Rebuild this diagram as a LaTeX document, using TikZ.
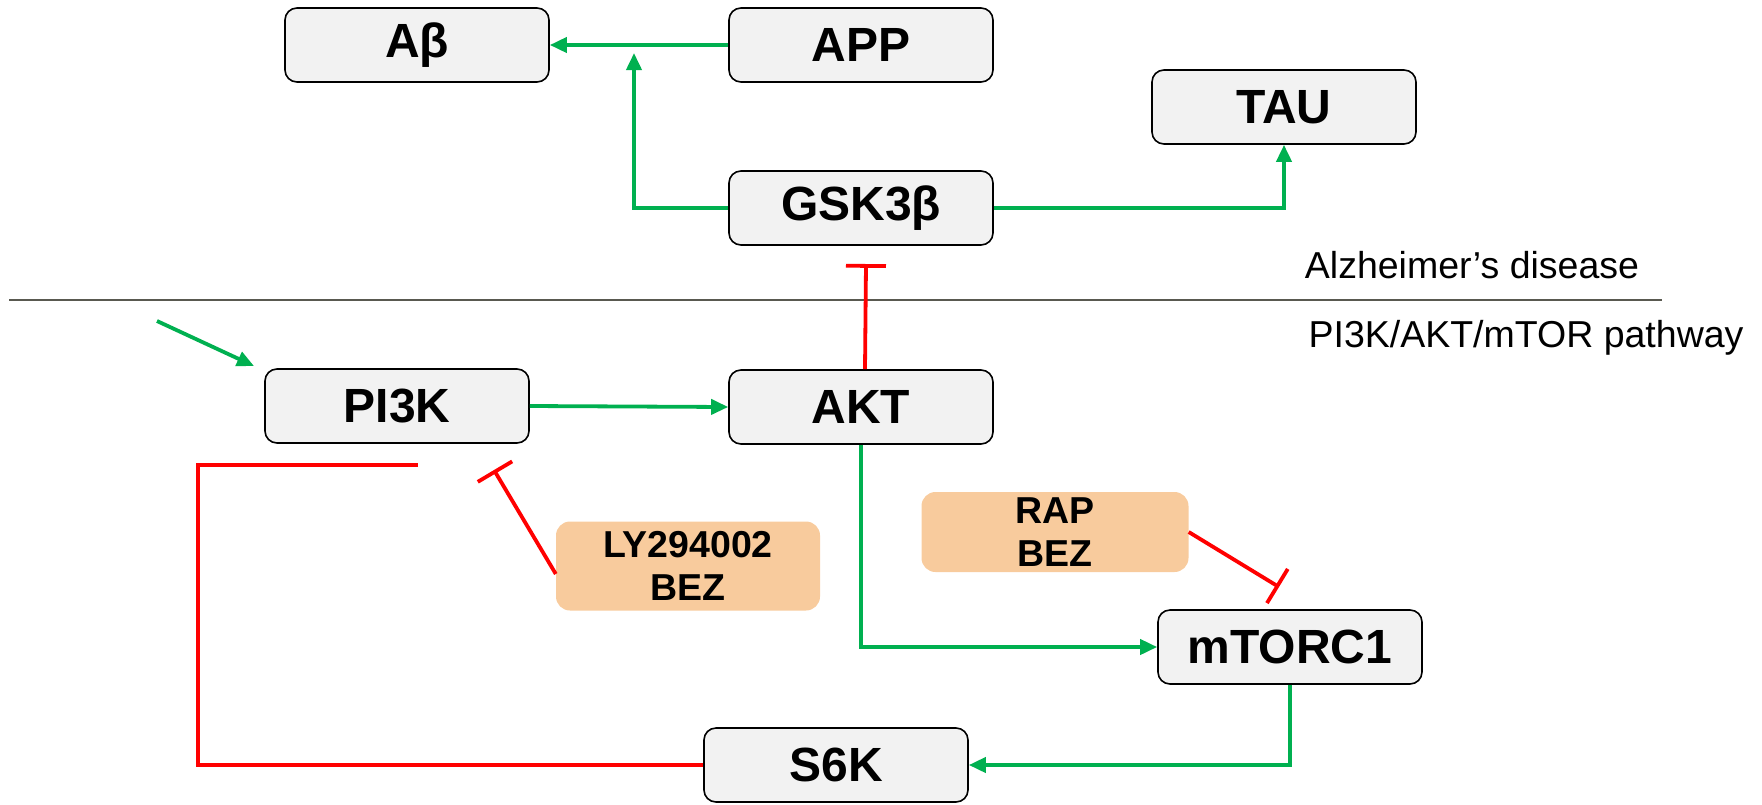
\documentclass[tikz,border=0pt]{standalone}
\usepackage{fontspec}
\setmainfont{Liberation Sans}
\usetikzlibrary{arrows.meta}
\definecolor{boxfill}{HTML}{F2F2F2}
\definecolor{drugfill}{HTML}{F8CB9D}
\definecolor{ggreen}{HTML}{00B050}
\definecolor{rred}{HTML}{FF0000}
\definecolor{divider}{HTML}{595950}
\tikzset{
  prot/.style={draw=black, line width=1.6pt, fill=boxfill, rounded corners=12pt,
    minimum width=264pt, minimum height=74pt, inner sep=0pt,
    font=\fontsize{48pt}{52pt}\selectfont\bfseries},
  drug/.style={fill=drugfill, rounded corners=14pt, inner sep=0pt, align=center,
    font=\fontsize{37.5pt}{43pt}\selectfont\bfseries},
  lbl/.style={inner sep=0pt, font=\fontsize{37.5pt}{41pt}\selectfont},
  garrow/.style={draw=ggreen, line width=3.8pt, -{Triangle[length=17pt,width=15pt]}},
  rbar/.style={draw=rred, line width=3.8pt, -{Bar[width=40pt,line width=3.8pt]}},
  rline/.style={draw=rred, line width=3.8pt},
}
\begin{document}
\begin{tikzpicture}[x=1pt,y=-1pt]
\useasboundingbox (0,0) rectangle (1762,804);
% nodes
\node[prot] (ab)  at (417,45)  {Aβ};
\node[prot] (app) at (861,45)  {APP};
\node[prot] (tau) at (1284,107) {TAU};
\node[prot] (gsk) at (861,208) {GSK3β};
\node[prot] (pik) at (397,406) {PI3K};
\node[prot] (akt) at (861,407) {AKT};
\node[prot] (mtorc) at (1290,647) {mTORC1};
\node[prot] (s6k) at (836,765) {S6K};
\node[drug, minimum width=264pt, minimum height=89pt] (ly) at (688,566) {LY294002\\BEZ};
\node[drug, minimum width=267pt, minimum height=80pt] (rap) at (1055,532) {RAP\\BEZ};
\node[lbl] (ad) at (1472,265) {Alzheimer’s disease};
\node[lbl] (pw) at (1526,338) {PI3K/AKT/mTOR pathway};
% divider
\draw[divider, line width=1.8pt] (9,300) -- (1662,300);
% helper coordinates
\coordinate (j1) at (634,53);
\coordinate (gb) at (866,264);
\coordinate (in1) at (157,321);
\coordinate (in2) at (254,366);
\coordinate (lyb) at (494,470);
\coordinate (fbc) at (198,465);
\coordinate (fbe) at (418,465);
\coordinate (rb) at (1279,587);
% connectors
\draw[garrow] (app.west) -- (ab.east);
\draw[garrow] (gsk.west) -| (j1);
\draw[garrow] (gsk.east) -| (tau.south);
\draw[rbar] ([xshift=4pt]akt.north) -- (gb);
\draw[garrow] (in1) -- (in2);
\draw[garrow] (pik.east) -- (akt.west);
\draw[rbar] ([yshift=-8pt]ly.west) -- (lyb);
\draw[rline] (s6k.west) -| (fbc) -- (fbe);
\draw[garrow] (akt.south) |- (mtorc.west);
\draw[rbar] (rap.east) -- (rb);
\draw[garrow] (mtorc.south) |- (s6k.east);
\end{tikzpicture}
\end{document}
